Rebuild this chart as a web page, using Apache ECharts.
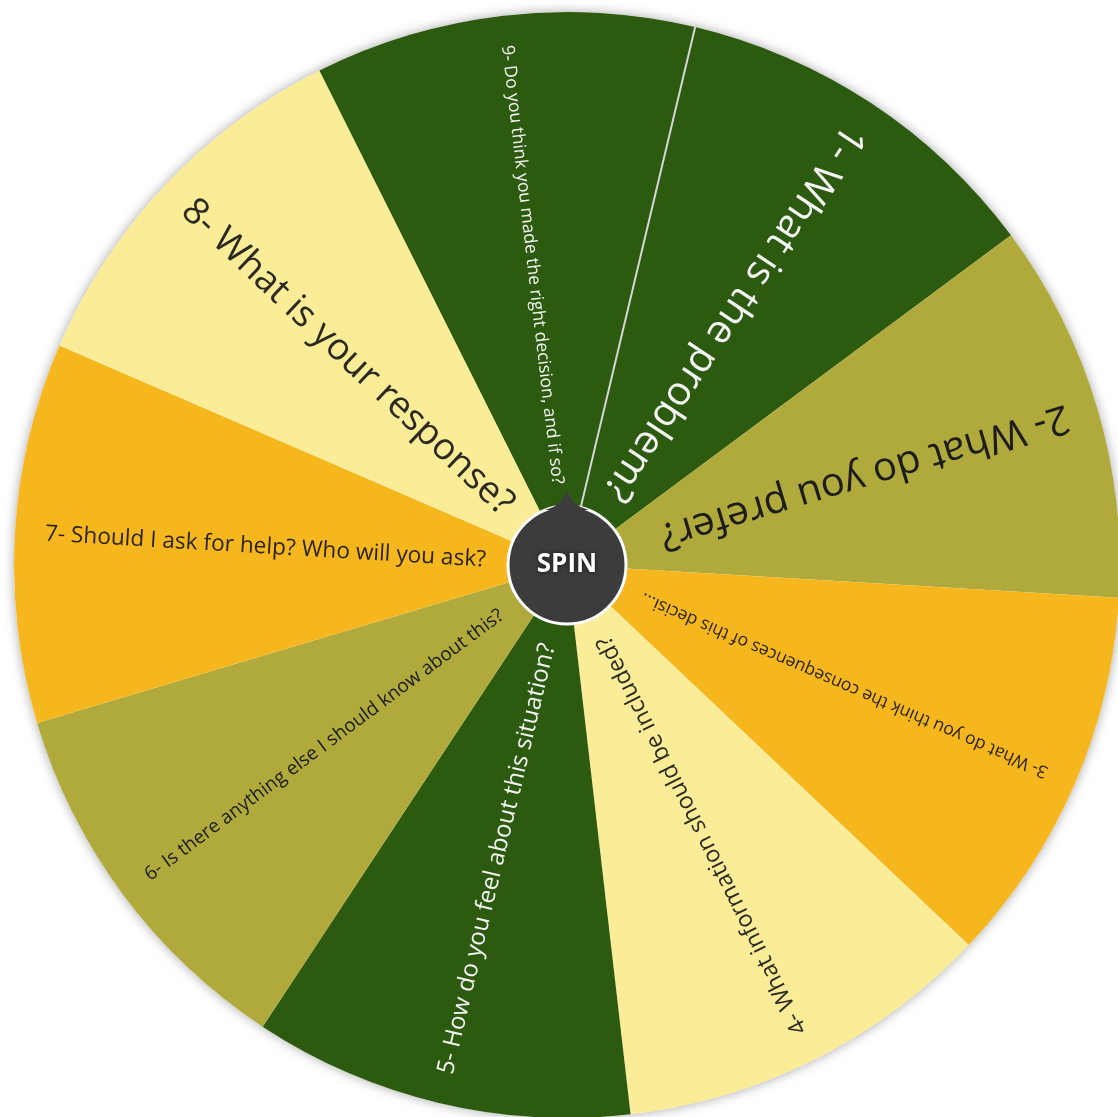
<!DOCTYPE html>
<html><head><meta charset="utf-8">
<script src="https://cdn.jsdelivr.net/npm/echarts@6/dist/echarts.min.js"></script>
<style>html,body{margin:0;padding:0;background:#fff;}#c{width:1118px;height:1117px;}</style>
</head><body><div id="c"></div>
<script>
// ---- data ----
const questions = [
  "1- What is the problem?",
  "2- What do you prefer?",
  "3- What do you think the consequences of this decisi...",
  "4- What information should be included?",
  "5- How do you feel about this situation?",
  "6- Is there anything else I should know about this?",
  "7- Should I ask for help? Who will you ask?",
  "8- What is your response?",
  "9- Do you think you made the right decision, and if so?"
];
const sliceValues = [1, 1, 1, 1, 1, 1, 1, 1, 1];
const centerLabel = "SPIN";

// ---- styles / layout ----
const palette = ['#2c5a0f', '#b0aa3d', '#f6b71e', '#fbec97'];
const paletteText = ['#f4f4f4', '#1c1c1c', '#2a2410', '#2a2a22'];
const CX = 567, CY = 565, R = 553, START = 13.4; // start angle, degrees clockwise from top
const FONT = '"Open Sans", "Noto Sans", sans-serif';

const mctx = document.createElement('canvas').getContext('2d');
function fitSize(t) {
  mctx.font = '100px ' + FONT;
  const w = mctx.measureText(t).width;
  return Math.min(40, 100 * 442 / w);
}

const wheelData = questions.map((q, i) => ({
  name: q, value: sliceValues[i],
  itemStyle: { color: palette[i % 4] }
}));
const labelData = questions.map((q, i) => ({
  name: q, value: sliceValues[i],
  label: { fontSize: fitSize(q), color: paletteText[i % 4] }
}));

// pointer tip outline (quadratic sides sampled)
function quad(p0, p1, p2, n) {
  const pts = [];
  for (let k = 0; k <= n; k++) {
    const t = k / n, a = (1 - t) * (1 - t), b = 2 * (1 - t) * t, c = t * t;
    pts.push([a * p0[0] + b * p1[0] + c * p2[0], a * p0[1] + b * p1[1] + c * p2[1]]);
  }
  return pts;
}
const tipPts = quad([CX, CY - 75], [CX + 4, CY - 60], [CX + 22, CY - 55], 16)
  .concat(quad([CX - 22, CY - 55], [CX - 4, CY - 60], [CX, CY - 75], 16));

const chart = echarts.init(document.getElementById('c'), null, { renderer: 'canvas' });
const rad = START * Math.PI / 180;
chart.setOption({
  backgroundColor: '#ffffff',
  animation: false,
  series: [
    { type: 'pie', z: 1, silent: true, center: [CX, CY], radius: [0, R],
      data: [{ value: 1, name: '' }],
      itemStyle: { color: '#ffffff', shadowBlur: 12, shadowColor: 'rgba(0,0,0,0.35)' },
      label: { show: false }, labelLine: { show: false } },
    { type: 'pie', z: 2, silent: true, center: [CX, CY], radius: [0, R],
      startAngle: 90 - START, clockwise: true, avoidLabelOverlap: false,
      data: wheelData, label: { show: false }, labelLine: { show: false } },
    { type: 'pie', z: 3, silent: true, center: [CX, CY], radius: [505, 535],
      startAngle: 90 - START, clockwise: true, avoidLabelOverlap: false,
      data: labelData,
      itemStyle: { color: 'rgba(0,0,0,0)' },
      label: { show: true, position: 'inside', formatter: '{b}', fontFamily: FONT, fontWeight: 'normal' },
      labelLine: { show: false },
      labelLayout: function (p) {
        const r = p.labelRect;
        const mid = START + (p.dataIndex + 0.5) * 360 / questions.length;
        return { x: r.x + r.width / 2, y: r.y + r.height / 2, align: 'left', verticalAlign: 'middle', rotate: -(mid + 90) };
      } },
    { type: 'pie', z: 6, silent: true, center: [CX, CY], radius: [0, 59],
      data: [{ value: 1, name: centerLabel }],
      itemStyle: { color: '#3c3c3c', borderColor: '#ffffff', borderWidth: 3 },
      label: { show: true, position: 'center', formatter: '{b}', color: '#ffffff', fontSize: 26,
        fontWeight: 'bold', fontFamily: FONT, textShadowBlur: 4, textShadowColor: 'rgba(0,0,0,0.7)' },
      labelLine: { show: false } }
  ],
  graphic: [
    { type: 'line', z: 4, silent: true,
      shape: { x1: CX + 60 * Math.sin(rad), y1: CY - 60 * Math.cos(rad), x2: CX + R * Math.sin(rad), y2: CY - R * Math.cos(rad) },
      style: { stroke: '#d6d6d6', lineWidth: 2 } },
    { type: 'polygon', z: 10, silent: true,
      shape: { points: tipPts },
      style: { fill: '#3c3c3c' } }
  ]
});
</script></body></html>
